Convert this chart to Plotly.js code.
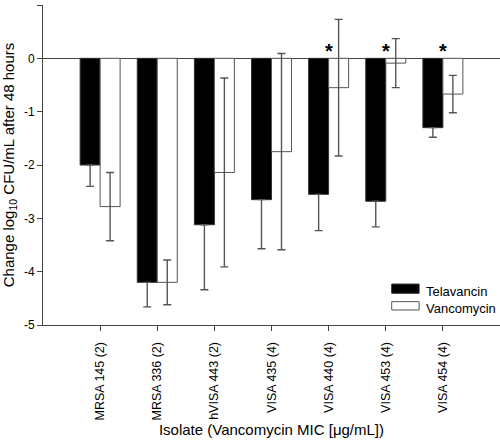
<!DOCTYPE html>
<html>
<head>
<meta charset="utf-8">
<script src="https://cdn.plot.ly/plotly-3.0.1.min.js"></script>
<style>html,body{margin:0;padding:0;background:#fff;}#chart{width:500px;height:441px;}</style>
</head>
<body>
<div id="chart"></div>
<script>
var isolates = ["MRSA 145 (2)", "MRSA 336 (2)", "hVISA 443 (2)", "VISA 435 (4)", "VISA 440 (4)", "VISA 453 (4)", "VISA 454 (4)"];
var telavancin = [-2.00, -4.20, -3.12, -2.65, -2.55, -2.68, -1.30];
var telavancinErr = [0.40, 0.46, 1.22, 0.92, 0.68, 0.48, 0.18];
var vancomycin = [-2.78, -4.20, -2.14, -1.75, -0.55, -0.09, -0.67];
var vancomycinErr = [0.64, 0.42, 1.77, 1.84, 1.28, 0.46, 0.35];
var significant = ["VISA 440 (4)", "VISA 453 (4)", "VISA 454 (4)"];
var yTickVals = [1, 0, -1, -2, -3, -4, -5];
var yTickText = ["1", "0", "-1", "-2", "-3", "-4", "-5"];
var seriesNames = ["Telavancin", "Vancomycin"];

var FONT = "Arial, 'Liberation Sans', sans-serif";
var zeros = telavancinErr.map(function(){ return 0; });

var traces = [
  {
    type: "bar", name: seriesNames[0], x: isolates, y: telavancin,
    marker: {color: "#000000", line: {color: "#333333", width: 1}},
    error_y: {type: "data", symmetric: false, array: zeros, arrayminus: telavancinErr,
      color: "#555555", thickness: 1.4, width: 4},
    showlegend: false
  },
  {
    type: "bar", name: seriesNames[1], x: isolates, y: vancomycin,
    marker: {color: "#ffffff", line: {color: "#555555", width: 1}},
    error_y: {type: "data", symmetric: true, array: vancomycinErr,
      color: "#555555", thickness: 1.4, width: 4},
    showlegend: false
  }
];

var annotations = significant.map(function(c){
  return {x: c, y: 0.14, xref: "x", yref: "y", text: "<b>*</b>", showarrow: false,
    font: {family: FONT, size: 20, color: "#000"}, xanchor: "center", yanchor: "middle"};
});
annotations.push({xref: "paper", yref: "paper", x: 0.834, y: 0.105, xanchor: "left", yanchor: "middle",
  text: seriesNames[0], showarrow: false, font: {family: FONT, size: 13, color: "#000"}});
annotations.push({xref: "paper", yref: "paper", x: 0.834, y: 0.052, xanchor: "left", yanchor: "middle",
  text: seriesNames[1], showarrow: false, font: {family: FONT, size: 13, color: "#000"}});

var shapes = [
  {type: "rect", xref: "paper", yref: "paper", x0: 0.763, x1: 0.823, y0: 0.099, y1: 0.128,
    fillcolor: "#000", line: {color: "#333", width: 1}},
  {type: "rect", xref: "paper", yref: "paper", x0: 0.763, x1: 0.823, y0: 0.047, y1: 0.073,
    fillcolor: "#fff", line: {color: "#555", width: 1}}
];

var layout = {
  width: 500, height: 441,
  margin: {l: 43, r: 0, t: 5, b: 116, pad: 0},
  paper_bgcolor: "#fff", plot_bgcolor: "#fff",
  font: {family: FONT, size: 12, color: "#000"},
  barmode: "group", bargap: 0.3, bargroupgap: 0,
  showlegend: false,
  xaxis: {
    type: "category", range: [-1, 7], showgrid: false, zeroline: false,
    showline: true, linecolor: "#444", linewidth: 1,
    ticks: "outside", ticklen: 5, tickcolor: "#444", tickwidth: 1,
    tickangle: -90, tickfont: {family: FONT, size: 12.5, color: "#000"},
    ticklabelstandoff: 6,
    title: {text: "Isolate (Vancomycin MIC [\u03bcg/mL])", font: {family: FONT, size: 15, color: "#000"}, standoff: 0},
    automargin: false
  },
  yaxis: {
    range: [-5, 1], showgrid: false,
    zeroline: true, zerolinecolor: "#444", zerolinewidth: 1,
    showline: true, linecolor: "#444", linewidth: 1,
    ticks: "outside", ticklen: 5, tickcolor: "#444", tickwidth: 1,
    tickvals: yTickVals, ticktext: yTickText,
    tickfont: {family: FONT, size: 12, color: "#000"},
    title: {text: "Change log<sub>10</sub> CFU/mL after 48 hours", font: {family: FONT, size: 15, color: "#000"}, standoff: 6},
    automargin: false
  },
  annotations: annotations,
  shapes: shapes
};

Plotly.newPlot("chart", traces, layout, {displayModeBar: false, staticPlot: true});
</script>
</body>
</html>
